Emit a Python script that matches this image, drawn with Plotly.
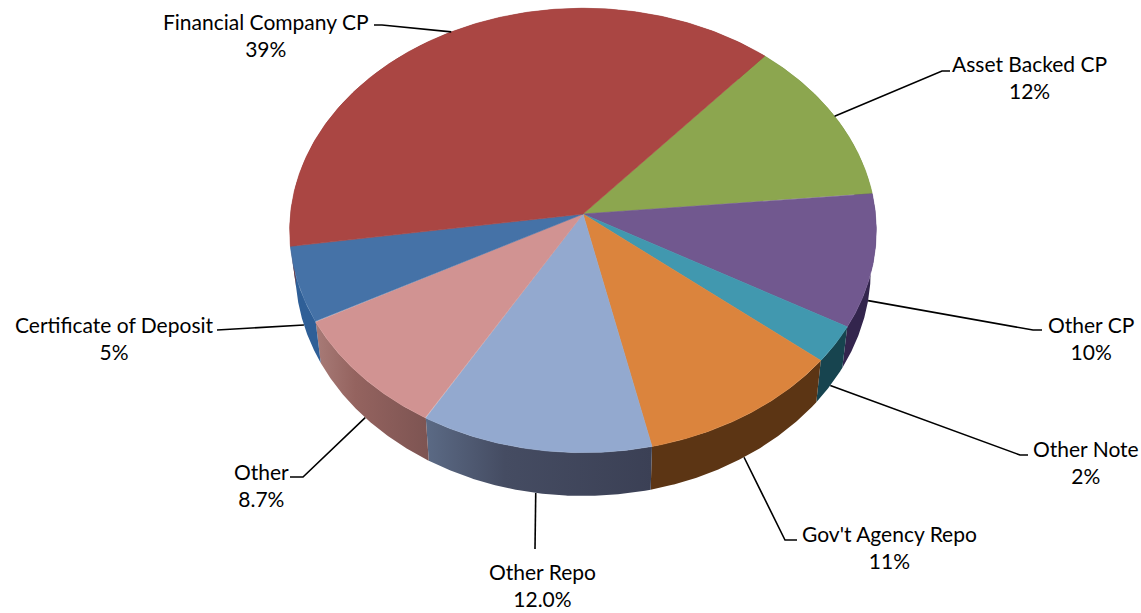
import numpy as np
import plotly.graph_objects as go

# Data, clockwise starting at the Asset Backed CP / Financial Company CP boundary
categories = ["Asset Backed CP", "Other CP", "Other Note", "Gov't Agency Repo",
              "Other Repo", "Other", "Certificate of Deposit", "Financial Company CP"]
values = [12.1, 9.7, 2.7, 10.6, 11.9, 8.8, 5.5, 38.7]
value_labels = ["12%", "10%", "2%", "11%", "12.0%", "8.7%", "5%", "39%"]

top_colors = ["#8ca64f", "#71588f", "#4198af", "#db843d", "#93a9cf", "#d19392", "#4572a7", "#aa4643"]
wall_left = ["#647a38", "#33254d", "#17444f", "#5c3514", "#5b6a85", "#a87b77", "#2f5f97", "#7d3331"]
wall_mid = ["#647a38", "#33254d", "#17444f", "#5c3514", "#454c62", "#94635f", "#2f5f97", "#7d3331"]
wall_right = ["#647a38", "#33254d", "#17444f", "#5c3514", "#3b4055", "#7d5452", "#2f5f97", "#7d3331"]

# Label centres and leader elbows, screen pixels
label_x = [1029, 1091, 1086, 889, 542, 261, 114, 266]
label_y = [77, 338, 462, 547, 585, 485, 338, 35]
elbow_x = [[942, 950], [1033, 1042], [1020, 1028], [785, 797], [535], [303, 290], [228, 217], [382, 374]]
elbow_y = [[71, 71], [330, 330], [455, 455], [540, 540], [549], [477, 477], [330, 330], [25, 25]]
leader_from_top = [True, False, False, False, False, False, False, True]

# Pie perspective geometry
START_DEG = -49.0
CX = 583.0
K = 0.074
TOP_A, TOP_B, TOP_Y = 292.5, 221.0, 214.0
BOT_A, BOT_B, BOT_Y = 287.0, 225.0, 253.0


def project(t, a, b, y0):
    u, v = np.cos(t), np.sin(t)
    d = 1 - K * v
    return CX + a * u / d, y0 + b * v / d


total = sum(values)
edges = np.radians(START_DEG + np.concatenate([[0], np.cumsum(values)]) / total * 360)

fig = go.Figure()

# side walls first
for i in range(len(values)):
    t = np.linspace(edges[i], edges[i + 1], 120)
    xt, yt = project(t, TOP_A, TOP_B, TOP_Y)
    xb, yb = project(t, BOT_A, BOT_B, BOT_Y)
    xs = np.concatenate([xt, xb[::-1], xt[:1]])
    ys = np.concatenate([yt, yb[::-1], yt[:1]])
    kw = {}
    if wall_left[i] != wall_right[i]:
        kw["fillgradient"] = dict(type="horizontal",
                                  colorscale=[[0, wall_left[i]], [0.35, wall_mid[i]], [1, wall_right[i]]])
    else:
        kw["fillcolor"] = wall_left[i]
    fig.add_trace(go.Scatter(x=xs, y=ys, mode="lines", fill="toself",
                             line=dict(width=0, color=wall_left[i]),
                             hoverinfo="skip", showlegend=False, **kw))

# top faces
for i in range(len(values)):
    t = np.linspace(edges[i], edges[i + 1], 240)
    xt, yt = project(t, TOP_A, TOP_B, TOP_Y)
    xs = np.concatenate([[CX], xt, [CX]])
    ys = np.concatenate([[TOP_Y], yt, [TOP_Y]])
    fig.add_trace(go.Scatter(x=xs, y=ys, mode="lines", fill="toself",
                             fillcolor=top_colors[i],
                             line=dict(width=0.6, color=top_colors[i]),
                             hoverinfo="skip", showlegend=False, name=categories[i]))

# leader lines, starting from the middle of each slice
for i in range(len(values)):
    mid = np.array([(edges[i] + edges[i + 1]) / 2])
    if leader_from_top[i]:
        x0, y0 = project(mid, TOP_A, TOP_B, TOP_Y)
    else:
        x0, y0 = project(mid, BOT_A, BOT_B, BOT_Y)
    fig.add_trace(go.Scatter(x=[x0[0]] + elbow_x[i], y=[y0[0]] + elbow_y[i], mode="lines",
                             line=dict(width=1.6, color="#000000"),
                             hoverinfo="skip", showlegend=False))

for i, name in enumerate(categories):
    fig.add_annotation(x=label_x[i], y=label_y[i], xref="x", yref="y",
                       text=f"{name}<br>{value_labels[i]}", showarrow=False,
                       xanchor="center", yanchor="middle", align="center",
                       font=dict(family="Lato", size=21, color="#000000"))

fig.update_layout(
    width=1141, height=613, autosize=False,
    margin=dict(l=0, r=0, t=0, b=0),
    paper_bgcolor="#ffffff", plot_bgcolor="#ffffff",
    xaxis=dict(range=[0, 1141], visible=False, fixedrange=True),
    yaxis=dict(range=[613, 0], visible=False, fixedrange=True),
)
fig.write_html("out.html", config={"displayModeBar": False},
               post_script="document.body.style.margin='0';document.body.style.overflow='hidden';")
